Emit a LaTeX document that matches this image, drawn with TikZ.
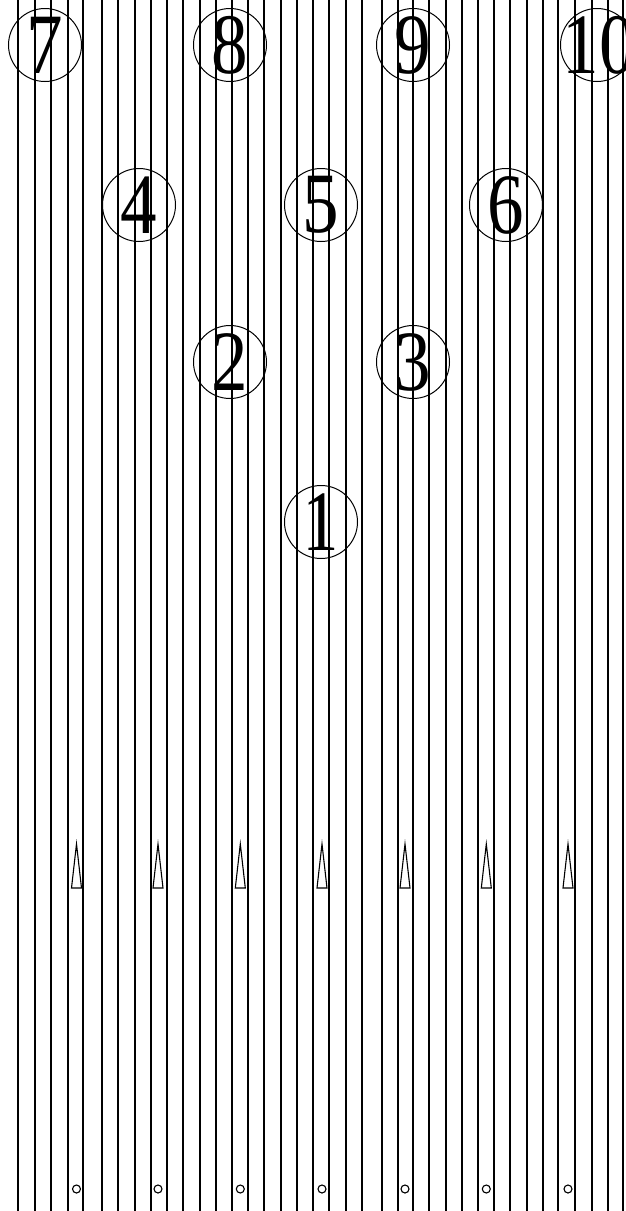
\documentclass[tikz,border=0pt]{standalone}
\usepackage{fontspec}
\setmainfont{Liberation Serif}
\begin{document}
\begin{tikzpicture}[x=1pt,y=-1pt,
  board/.style={line width=1.7pt,black},
  pin/.style={inner sep=0pt,font=\fontsize{86}{86}\selectfont},
  pinring/.style={draw,line width=1pt},
  arrowmark/.style={draw,line width=1.1pt,fill=white},
  dotmark/.style={draw,line width=1.1pt,fill=white}]
\useasboundingbox (0,0) rectangle (626,1211);
% boards
\foreach \x in {18.3,35,51,67.7,83.3,101.7,118.3,135,151,166.7,183.3,200,215.7,232.3,248.3,264.3,280.7,296.7,313.3,329.3,345.7,361.7,381.7,397.7,413.3,429.3,445.7,461.7,478.3,494.3,510,526.7,542.7,558.3,575,591.7,607.7,623.3}
  \draw[board] (\x,-2) -- (\x,1213);
% target arrows and dots
\foreach \x in {76.5,158,240.3,322,405,486.3,568}{
  \draw[arrowmark] (\x-5,888) -- (\x+5,888) -- (\x,844) -- cycle;
  \draw[dotmark] (\x,1189) circle[radius=4];
}
% pins
\node[pin] (p7) at (45,45) {\scalebox{0.85}[1]{7}};
\node[pin] (p8) at (230,45) {\scalebox{0.85}[1]{8}};
\node[pin] (p9) at (413,45) {\scalebox{0.85}[1]{9}};
\node[pin] (p10) at (599,45) {\scalebox{0.85}[1]{10}};
\node[pin] (p4) at (139,205) {\scalebox{0.85}[1]{4}};
\node[pin] (p5) at (321,205) {\scalebox{0.85}[1]{5}};
\node[pin] (p6) at (506,205) {\scalebox{0.85}[1]{6}};
\node[pin] (p2) at (230,362) {\scalebox{0.85}[1]{2}};
\node[pin] (p3) at (413,362) {\scalebox{0.85}[1]{3}};
\node[pin] (p1) at (321,522) {\scalebox{0.85}[1]{1}};
\foreach \p/\c in {p7/45,p8/230,p9/413,p4/139,p5/321,p6/506,p2/230,p3/413,p1/321}
  \draw[pinring] (\p.center) circle[radius=36.5];
\draw[pinring] (597,45) circle[radius=36.5];
\end{tikzpicture}
\end{document}
